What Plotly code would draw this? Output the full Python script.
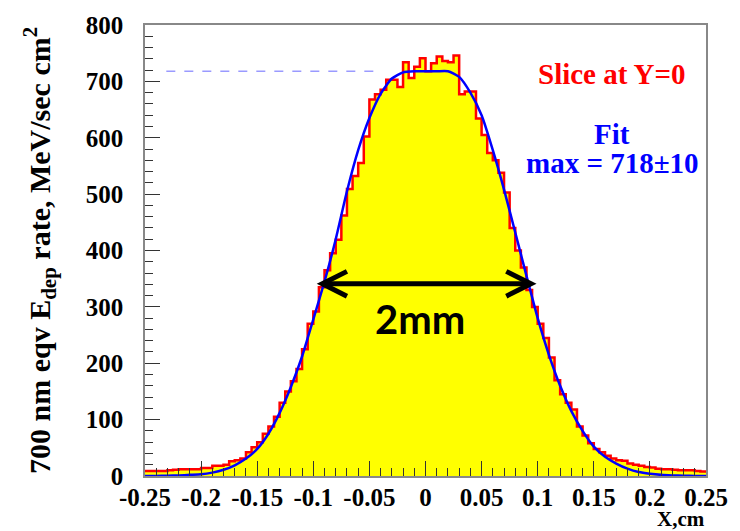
import numpy as np
import plotly.graph_objects as go

# ---- data ----
BIN_LO, BIN_HI = -0.25, 0.25
hist_values = [
    9, 9, 9, 9, 10, 11, 12, 12, 12, 12,
    14, 14, 18, 18, 20, 26, 28, 31, 42, 51,
    60, 75, 88, 105, 130, 150, 168, 190, 225, 270,
    292, 335, 365, 395, 419, 462, 509, 532, 555, 602,
    668, 677, 685, 703, 703, 690, 734, 706, 726, 741,
    718, 732, 744, 736, 734, 746, 677, 682, 682, 634,
    605, 573, 560, 538, 503, 440, 400, 370, 330, 300,
    270, 245, 210, 170, 145, 130, 118, 88, 72, 58,
    48, 42, 36, 31, 28, 27, 22, 20, 18, 16,
    15, 13, 12, 12, 11, 10, 10, 10, 9, 8,
]
fit_x = [-0.25, -0.24, -0.23, -0.22, -0.21, -0.20, -0.19, -0.18, -0.17, -0.16,
         -0.15, -0.14, -0.13, -0.12, -0.11, -0.10, -0.09, -0.08, -0.07, -0.06,
         -0.05, -0.04, -0.03, -0.02, -0.01, 0.00, 0.01, 0.02, 0.03, 0.04,
         0.05, 0.06, 0.07, 0.08, 0.09, 0.10, 0.11, 0.12, 0.13, 0.14,
         0.15, 0.16, 0.17, 0.18, 0.19, 0.20, 0.21, 0.22, 0.23, 0.24, 0.25]
fit_y = [0, 0, 0.5, 1, 2, 3, 6, 11, 19, 31,
         48, 75, 112, 158, 212, 278, 345, 420, 505, 578,
         635, 678, 705, 716, 718, 718, 718, 718, 708, 680,
         640, 578, 508, 432, 355, 280, 215, 160, 115, 80,
         52, 34, 22, 13, 7, 4, 2, 1, 0.5, 0, 0]
fit_max = 718
x_tickvals = [-0.25, -0.2, -0.15, -0.1, -0.05, 0, 0.05, 0.1, 0.15, 0.2, 0.25]
x_ticktext = ["-0.25", "-0.2", "-0.15", "-0.1", "-0.05", "0", "0.05", "0.1", "0.15", "0.2", "0.25"]
y_tickvals = [0, 100, 200, 300, 400, 500, 600, 700, 800]
y_ticktext = ["0", "100", "200", "300", "400", "500", "600", "700", "800"]

# ---- build step outline ----
nb = len(hist_values)
edges = np.linspace(BIN_LO, BIN_HI, nb + 1)
step_x = list(edges)
step_y = list(hist_values) + [hist_values[-1]]

fig = go.Figure()
fig.add_trace(go.Scatter(x=step_x, y=step_y, mode="lines", line_shape="hv",
                         line=dict(color="#ff0000", width=2.5),
                         fill="tozeroy", fillcolor="#ffff00", hoverinfo="skip"))
fig.add_trace(go.Scatter(x=fit_x, y=fit_y, mode="lines",
                         line=dict(color="#0000ff", width=2.5, shape="spline", smoothing=0.6)))
# dashed max line
fig.add_trace(go.Scatter(x=[-0.231, -0.041], y=[fit_max, fit_max], mode="lines",
                         line=dict(color="#9a9aff", width=1.5, dash="dash")))

# 2mm arrow
ax0, ax1, ay = -0.092, 0.094, 341
adx, ady = 0.022, 22
arrow_style = dict(color="black", width=5)
fig.add_shape(type="line", x0=ax0, x1=ax1, y0=ay, y1=ay, line=arrow_style)
fig.add_shape(type="path", path=f"M {ax0+adx},{ay+ady} L {ax0},{ay} L {ax0+adx},{ay-ady}", line=arrow_style)
fig.add_shape(type="path", path=f"M {ax1-adx},{ay+ady} L {ax1},{ay} L {ax1-adx},{ay-ady}", line=arrow_style)

serif = "Liberation Serif"
fig.add_annotation(x=-0.005, y=278, text="<b>2mm</b>", showarrow=False,
                   font=dict(family="Comic Sans MS, Lato", size=40, color="black"))
fig.add_annotation(x=0.166, y=713, text="<b>Slice at Y=0</b>", showarrow=False,
                   font=dict(family=serif, size=29, color="#ff0000"))
fig.add_annotation(x=0.166, y=607, text="<b>Fit</b>", showarrow=False,
                   font=dict(family=serif, size=29, color="#0000ff"))
fig.add_annotation(x=0.167, y=555, text="<b>max = 718±10</b>", showarrow=False,
                   font=dict(family=serif, size=29, color="#0000ff"))
fig.add_annotation(xref="paper", yref="paper", x=-0.188, y=0.5, textangle=-90,
                   text="<b>700 nm eqv E<sub>dep</sub> rate, MeV/sec cm<sup>2</sup></b>",
                   showarrow=False, xanchor="center", yanchor="middle",
                   font=dict(family=serif, size=30, color="black"))
fig.add_annotation(xref="paper", yref="paper", x=1.0, y=-0.124, xanchor="right", yanchor="bottom",
                   text="<b>X,cm</b>", showarrow=False, borderpad=0,
                   font=dict(family=serif, size=21, color="black"))

axis_common = dict(showline=True, linecolor="#888888", linewidth=1.5, mirror=True,
                   ticks="inside", ticklen=15, tickcolor="#333333", tickwidth=1,
                   showgrid=False, zeroline=False,
                   tickfont=dict(family=serif, size=25, color="black", weight="bold"))
fig.update_xaxes(range=[BIN_LO, BIN_HI], tickvals=x_tickvals, ticktext=x_ticktext,
                 minor=dict(ticks="inside", ticklen=8, dtick=0.01, tick0=0, tickcolor="#333333", showgrid=False),
                 ticklabelstandoff=-2, **axis_common)
fig.update_yaxes(range=[0, 800], tickvals=y_tickvals, ticktext=y_ticktext,
                 minor=dict(ticks="inside", ticklen=8, dtick=20, tick0=0, tickcolor="#333333", showgrid=False),
                 ticklabelstandoff=15, **axis_common)

fig.update_layout(width=740, height=531, showlegend=False,
                  margin=dict(l=145, r=26, t=16, b=55),
                  paper_bgcolor="white", plot_bgcolor="white")
fig.write_html("out.html")
